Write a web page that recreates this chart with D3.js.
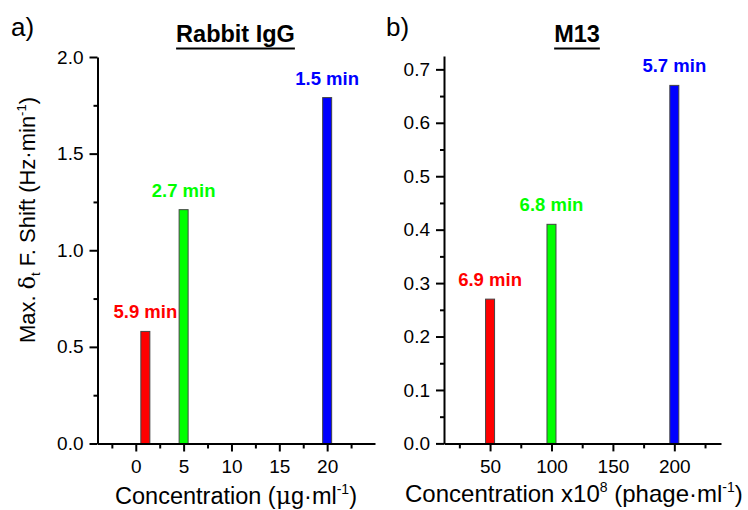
<!DOCTYPE html>
<html>
<head>
<meta charset="utf-8">
<script src="https://cdn.jsdelivr.net/npm/d3@7"></script>
<style>
  html, body { margin: 0; padding: 0; background: #fff; }
  svg { display: block; font-family: "Liberation Sans", Arial, sans-serif; }
  .axis path, .axis line { stroke: #000; stroke-width: 2; }
  .axis text { font-size: 19px; fill: #000; }
</style>
</head>
<body>
<svg id="chart" width="748" height="510"></svg>
<script>
// Rabbit IgG: concentration (µg/ml), max frequency-shift rate, time to reach it
const iggConc = [1, 5, 20];
const iggShift = [0.58, 1.21, 1.79];
const iggTime = ["5.9 min", "2.7 min", "1.5 min"];

// M13 phage: concentration (x10^8 phage/ml), max frequency-shift rate, time
const m13Conc = [50, 100, 200];
const m13Shift = [0.27, 0.41, 0.67];
const m13Time = ["6.9 min", "6.8 min", "5.7 min"];

const barColors = ["#ff0000", "#00ff00", "#0000ff"];

// Tick values
const iggXTicks = [0, 5, 10, 15, 20];
const iggXMinor = [-2.5, 2.5, 7.5, 12.5, 17.5, 22.5];
const iggYTicks = [0, 0.5, 1.0, 1.5, 2.0];
const iggYMinor = [0.25, 0.75, 1.25, 1.75];
const m13XTicks = [50, 100, 150, 200];
const m13XMinor = [25, 75, 125, 175, 225];
const m13YTicks = [0, 0.1, 0.2, 0.3, 0.4, 0.5, 0.6, 0.7];
const m13YMinor = [0.05, 0.15, 0.25, 0.35, 0.45, 0.55, 0.65];

const svg = d3.select("#chart");
const BAR_W = 9;

function panel(opt) {
  const x = d3.scaleLinear().domain(opt.xDomain).range(opt.xRange);
  const y = d3.scaleLinear().domain(opt.yDomain).range(opt.yRange);
  const g = svg.append("g");
  const y0 = y(0);

  // minor ticks (no labels)
  g.append("g").attr("class", "axis").attr("transform", `translate(0,${y0})`)
    .call(d3.axisBottom(x).tickValues(opt.xMinor).tickSize(5).tickSizeOuter(0).tickFormat(""))
    .select(".domain").remove();
  g.append("g").attr("class", "axis").attr("transform", `translate(${opt.xRange[0]},0)`)
    .call(d3.axisLeft(y).tickValues(opt.yMinor).tickSize(4).tickSizeOuter(0).tickFormat(""))
    .select(".domain").remove();

  // bars
  g.selectAll("rect.bar").data(opt.conc).join("rect")
    .attr("class", "bar")
    .attr("x", (d) => x(d) - BAR_W / 2)
    .attr("width", BAR_W)
    .attr("y", (d, i) => y(opt.shift[i]))
    .attr("height", (d, i) => y0 - y(opt.shift[i]))
    .attr("fill", (d, i) => barColors[i])
    .attr("stroke", "#444")
    .attr("stroke-width", 1);

  // time labels above bars
  g.selectAll("text.time").data(opt.conc).join("text")
    .attr("class", "time")
    .attr("x", (d) => x(d))
    .attr("y", (d, i) => y(opt.shift[i]) - 13)
    .attr("text-anchor", "middle")
    .attr("font-size", 18.5)
    .attr("font-weight", "bold")
    .attr("fill", (d, i) => barColors[i])
    .text((d, i) => opt.time[i]);

  // major axes
  g.append("g").attr("class", "axis").attr("transform", `translate(0,${y0})`)
    .call(d3.axisBottom(x).tickValues(opt.xTicks).tickSize(8).tickSizeOuter(0).tickPadding(8.5)
      .tickFormat(d3.format("d")));
  g.append("g").attr("class", "axis").attr("transform", `translate(${opt.xRange[0]},0)`)
    .call(d3.axisLeft(y).tickValues(opt.yTicks).tickSize(8).tickSizeOuter(0).tickPadding(6)
      .tickFormat(d3.format(".1f")));

  // panel title, bold and underlined
  const t = g.append("text")
    .attr("x", opt.titleX).attr("y", 42)
    .attr("text-anchor", "middle")
    .attr("font-size", 23.5).attr("font-weight", "bold")
    .text(opt.title);
  const bb = t.node().getBBox();
  g.append("line")
    .attr("x1", bb.x).attr("x2", bb.x + bb.width)
    .attr("y1", 48.5).attr("y2", 48.5)
    .attr("stroke", "#000").attr("stroke-width", 2);

  // panel letter
  g.append("text").attr("x", opt.letterX).attr("y", 36)
    .attr("font-size", 26).text(opt.letter);

  return { x, y, g };
}

const left = panel({
  xDomain: [-4, 25], xRange: [97.5, 375],
  yDomain: [0, 2.0], yRange: [443.5, 57],
  xTicks: iggXTicks, xMinor: iggXMinor, yTicks: iggYTicks, yMinor: iggYMinor,
  conc: iggConc, shift: iggShift, time: iggTime,
  title: "Rabbit IgG", titleX: 235.5, letter: "a)", letterX: 11
});

const right = panel({
  xDomain: [12.5, 238], xRange: [444, 721],
  yDomain: [0, 0.725], yRange: [443.4, 56],
  xTicks: m13XTicks, xMinor: m13XMinor, yTicks: m13YTicks, yMinor: m13YMinor,
  conc: m13Conc, shift: m13Shift, time: m13Time,
  title: "M13", titleX: 577, letter: "b)", letterX: 386
});

// axis titles
const xt1 = svg.append("text").attr("x", 236).attr("y", 504)
  .attr("text-anchor", "middle").attr("font-size", 23.5);
xt1.append("tspan").text("Concentration (");
xt1.append("tspan").attr("font-family", "DejaVu Serif, serif").text("\u03bc");
xt1.append("tspan").text("g\u00b7ml");
xt1.append("tspan").attr("font-size", 14).attr("dy", -10).text("-1");
xt1.append("tspan").attr("dy", 10).text(")");

const xt2 = svg.append("text").attr("x", 405).attr("y", 502)
  .attr("text-anchor", "start").attr("font-size", 24);
xt2.append("tspan").text("Concentration x10");
xt2.append("tspan").attr("font-size", 14).attr("dy", -10).text("8");
xt2.append("tspan").attr("dy", 10).text(" (phage\u00b7ml");
xt2.append("tspan").attr("font-size", 14).attr("dy", -10).text("-1");
xt2.append("tspan").attr("dy", 10).text(")");

const yt = svg.append("text")
  .attr("transform", "translate(35,220) rotate(-90)")
  .attr("text-anchor", "middle").attr("font-size", 22);
yt.append("tspan").text("Max. ");
yt.append("tspan").attr("font-family", "DejaVu Serif, serif").text("\u03b4");
yt.append("tspan").attr("font-size", 13).attr("dy", 5).text("t");
yt.append("tspan").attr("dy", -5).text(" F. Shift (Hz\u00b7min");
yt.append("tspan").attr("font-size", 13).attr("dy", -9).text("-1");
yt.append("tspan").attr("dy", 9).text(")");
</script>
</body>
</html>
